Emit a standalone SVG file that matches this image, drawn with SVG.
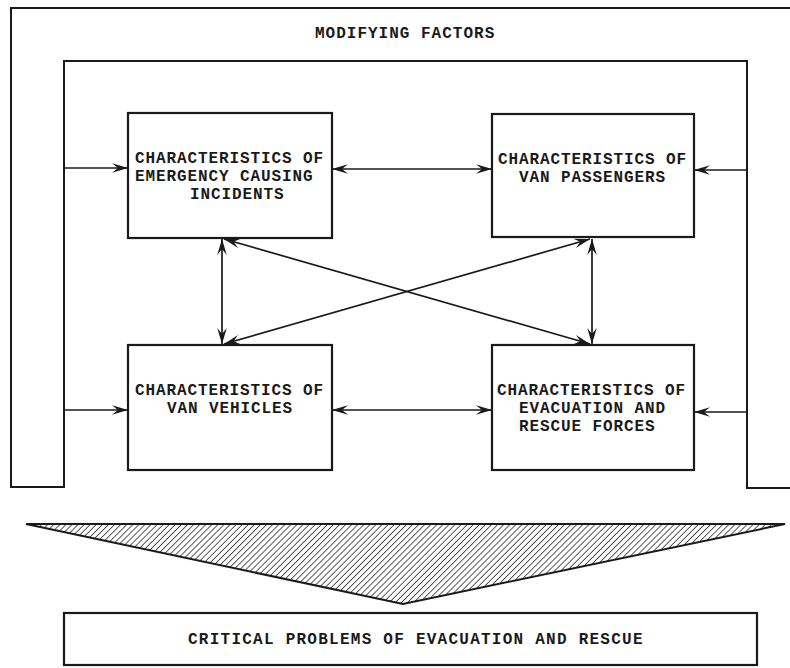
<svg xmlns="http://www.w3.org/2000/svg" width="790" height="668" viewBox="0 0 790 668">
<style>
.ln{fill:none;stroke:#1a1a1a;stroke-width:2}
.bx{fill:#fff;stroke:#1a1a1a;stroke-width:2.2}
.cn{fill:none;stroke:#1a1a1a;stroke-width:1.7}
.t{font-family:"Liberation Mono","Courier New",monospace;font-weight:bold;font-size:16px;letter-spacing:0.9px;fill:#1a1a1a}
</style>
<defs>
<marker id="ah" viewBox="-16 -5 17 10" refX="0" refY="0" markerWidth="17" markerHeight="10" markerUnits="userSpaceOnUse" orient="auto-start-reverse">
<path d="M0,0 L-16,-4.8 L-10,0 L-16,4.8 Z" fill="#1a1a1a"/>
</marker>
<pattern id="hatch" patternUnits="userSpaceOnUse" width="4.3" height="4.3" patternTransform="rotate(45)">
<rect width="4.3" height="4.3" fill="#fff"/>
<line x1="0" y1="0" x2="0" y2="4.3" stroke="#333" stroke-width="1.6"/>
</pattern>
</defs>
<rect width="790" height="668" fill="#fff"/>
<g id="frame">
<path class="ln" d="M790,8 L11,8 L11,487 L64,487 L64,61 L747,61 L747,488 L790,488"/>
<text class="t" x="315" y="38" style="letter-spacing:1px">MODIFYING FACTORS</text>
</g>
<g id="box1">
<rect class="bx" x="128" y="113" width="204" height="125"/>
<text class="t" x="135" y="163">CHARACTERISTICS OF</text>
<text class="t" x="135" y="181">EMERGENCY CAUSING</text>
<text class="t" x="190" y="199">INCIDENTS</text>
</g>
<g id="box2">
<rect class="bx" x="492" y="114" width="202" height="123"/>
<text class="t" x="498" y="164">CHARACTERISTICS OF</text>
<text class="t" x="519" y="182">VAN PASSENGERS</text>
</g>
<g id="box3">
<rect class="bx" x="128" y="345" width="204" height="125"/>
<text class="t" x="135" y="395">CHARACTERISTICS OF</text>
<text class="t" x="167" y="413">VAN VEHICLES</text>
</g>
<g id="box4">
<rect class="bx" x="492" y="345" width="202" height="125"/>
<text class="t" x="497" y="395">CHARACTERISTICS OF</text>
<text class="t" x="519" y="413">EVACUATION AND</text>
<text class="t" x="519" y="431">RESCUE FORCES</text>
</g>
<g id="connectors">
<path class="cn" d="M64,168 L128,168" marker-end="url(#ah)"/>
<path class="cn" d="M332,169 L492,169" marker-start="url(#ah)" marker-end="url(#ah)"/>
<path class="cn" d="M747,170 L694,170" marker-end="url(#ah)"/>
<path class="cn" d="M64,410 L128,410" marker-end="url(#ah)"/>
<path class="cn" d="M332,410 L492,410" marker-start="url(#ah)" marker-end="url(#ah)"/>
<path class="cn" d="M747,412 L694,412" marker-end="url(#ah)"/>
<path class="cn" d="M222,239 L222,344" marker-start="url(#ah)" marker-end="url(#ah)"/>
<path class="cn" d="M592,239 L592,344" marker-start="url(#ah)" marker-end="url(#ah)"/>
<path class="cn" d="M224,239 L590,344" marker-start="url(#ah)" marker-end="url(#ah)"/>
<path class="cn" d="M590,239 L224,344" marker-start="url(#ah)" marker-end="url(#ah)"/>
</g>
<g id="funnel">
<path d="M26,524 L785,524 L403,604 Z" fill="url(#hatch)" stroke="#1a1a1a" stroke-width="2" stroke-linejoin="miter"/>
</g>
<g id="result">
<rect class="bx" x="64" y="613" width="693" height="52"/>
<text class="t" x="188" y="644" style="letter-spacing:1.25px">CRITICAL PROBLEMS OF EVACUATION AND RESCUE</text>
</g>
</svg>
